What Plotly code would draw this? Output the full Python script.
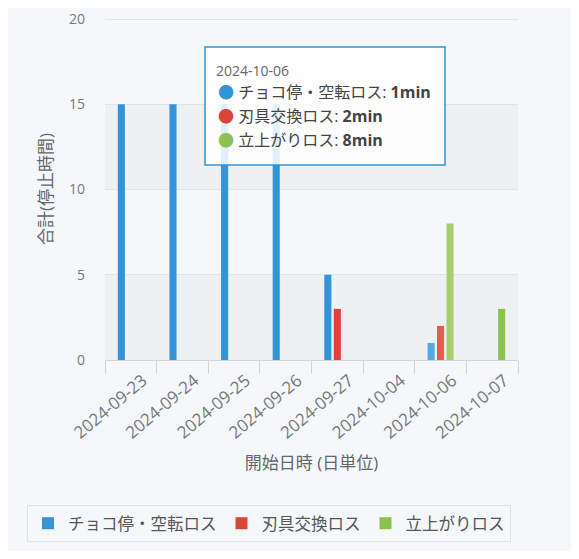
import plotly.graph_objects as go

dates = ["2024-09-23", "2024-09-24", "2024-09-25", "2024-09-26",
         "2024-09-27", "2024-10-04", "2024-10-06", "2024-10-07"]
series_names = ["チョコ停・空転ロス", "刃具交換ロス", "立上がりロス"]
chokotei = [15, 15, 15, 15, 5, None, 1, None]
hagu = [None, None, None, None, 3, None, 2, None]
tachiagari = [None, None, None, None, None, None, 8, 3]
y_ticks = [0, 5, 10, 15, 20]
y_max = 20
hover_date = "2024-10-06"
unit = "min"

colors = ["#3394d8", "#db4437", "#8cc152"]
hover_colors = ["#4fabe2", "#ea5a4e", "#a4cf6c"]
card_bg = "#f5f8fb"
band_bg = "#eef1f4"
font_family = "Open Sans, Noto Sans CJK JP, sans-serif"

hi = dates.index(hover_date)
all_vals = [chokotei, hagu, tachiagari]

fig = go.Figure()
for name, vals, c, hc in zip(series_names, all_vals, colors, hover_colors):
    mcolors = [hc if i == hi else c for i in range(len(dates))]
    fig.add_trace(go.Bar(x=dates, y=vals, name=name,
                         marker=dict(color=mcolors, line=dict(width=0))))

# page offset of the figure inside the browser window
OFF = 8
FW, FH = 579 - OFF, 559 - OFF
# plot area geometry in window pixels
L, R, T, B = 105, 518, 18, 360
W, H = R - L, B - T
def px(x):
    return (x - L) / W
def py(y):
    return (B - y) / H

shapes = [
    # white strip below the card
    dict(type="rect", xref="paper", yref="paper", x0=px(0), x1=px(600),
         y0=py(600), y1=py(551), fillcolor="white", line=dict(width=0), layer="below"),
]
# alternating bands
for lo, hi_ in [(0, 5), (10, 15)]:
    shapes.append(dict(type="rect", xref="paper", yref="y", x0=0, x1=1, y0=lo, y1=hi_,
                       fillcolor=band_bg, line=dict(width=0), layer="below"))
# tooltip box
shapes.append(dict(type="rect", xref="paper", yref="paper", x0=px(205), x1=px(445),
                   y0=py(165), y1=py(47), fillcolor="rgba(255,255,255,0.85)",
                   line=dict(color="#3394d8", width=1.5), layer="above"))

annotations = [
    dict(xref="paper", yref="paper", x=px(214), y=py(70), xanchor="left", yanchor="middle",
         text=hover_date, showarrow=False, font=dict(size=14, color="#666", family=font_family)),
]
line_y = [92, 116, 140]
for name, vals, c, ly in zip(series_names, all_vals, colors, line_y):
    v = vals[hi] if vals[hi] is not None else 0
    annotations.append(dict(
        xref="paper", yref="paper", x=px(216), y=py(ly), xanchor="left", yanchor="middle",
        text=f"<span style='color:{c}'>●</span> {name}: <b>{v}{unit}</b>",
        showarrow=False, font=dict(size=16, color="#444", family=font_family)))

fig.update_layout(
    width=FW, height=FH,
    margin=dict(l=L - OFF, r=579 - R, t=T - OFF, b=559 - B, autoexpand=False),
    paper_bgcolor=card_bg, plot_bgcolor="rgba(0,0,0,0)",
    font=dict(family=font_family, color="#666"),
    barmode="group", bargap=0.45, bargroupgap=0.25,
    shapes=shapes, annotations=annotations,
    showlegend=True,
    legend=dict(orientation="h", x=px(27), y=py(505), xanchor="left", yanchor="top",
                bgcolor=card_bg, bordercolor="#dfe3e7", borderwidth=1,
                font=dict(size=16.5, color="#555", family=font_family),
                itemsizing="constant", traceorder="normal"),
    xaxis=dict(type="category", tickangle=-40, tickfont=dict(size=17, color="#777"),
               automargin=False, ticklabelshift=12, ticklabelstandoff=3,
               ticklabeloverflow="allow",
               showline=True, linecolor="#cfd4d9", linewidth=1,
               ticks="outside", tickson="boundaries", ticklen=13, tickcolor="#cfd4d9",
               showgrid=False,
               title=dict(text="開始日時 (日単位)", font=dict(size=17, color="#666"), standoff=14)),
    yaxis=dict(range=[0, y_max * 1.003], tickvals=y_ticks, tickfont=dict(size=14, color="#777"),
               automargin=False, ticklabeloverflow="allow",
               showgrid=True, gridcolor="#e0e4e8", gridwidth=1, zeroline=False,
               ticks="", ticklabelstandoff=19,
               title=dict(text="合計(停止時間)", font=dict(size=17, color="#666"), standoff=12)),
)

fig.write_html("out.html")
